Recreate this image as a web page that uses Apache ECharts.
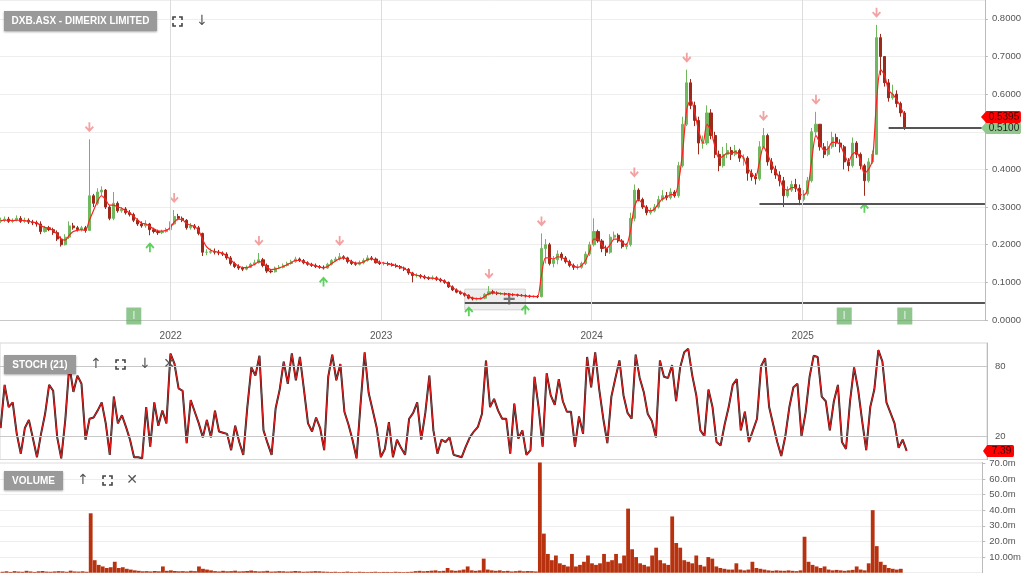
<!DOCTYPE html>
<html><head><meta charset="utf-8">
<script src="https://cdn.jsdelivr.net/npm/echarts@6/dist/echarts.min.js"></script>
<style>html,body{margin:0;padding:0;background:#fff;overflow:hidden}#c{width:1024px;height:573px}</style>
</head><body><div id="c"></div>
<script>
// ---- data (weekly) ----
const firstWeek = [2021, 2, 12];      // first weekly bar (Y, M-1, D)
const axisFrom = [2021, 2, 11];
const axisTo = [2025, 10, 13];
const yearLines = ['2022-01-01', '2023-01-01', '2024-01-01', '2025-01-01'];

const opens = [
.262,.265,.268,.262,.265,.270,.262,.265,.260,.258,
.255,.235,.245,.240,.232,.215,.200,.220,.250,.245,
.240,.245,.238,.330,.310,.340,.345,.300,.270,.310,
.290,.295,.285,.280,.265,.255,.250,.255,.240,.235,
.232,.235,.240,.255,.275,.270,.265,.245,.250,.245,
.230,.180,.180,.182,.180,.178,.175,.165,.150,.142,
.138,.135,.140,.148,.152,.160,.145,.130,.128,.138,
.140,.145,.150,.155,.162,.158,.152,.148,.145,.142,
.140,.138,.148,.158,.162,.168,.165,.155,.150,.148,
.152,.158,.165,.162,.152,.150,.150,.148,.145,.142,
.138,.135,.125,.118,.118,.115,.112,.110,.112,.108,
.104,.100,.088,.080,.074,.070,.066,.058,.056,.056,
.058,.068,.075,.072,.070,.070,.069,.068,.067,.066,
.065,.064,.062,.063,.062,.190,.200,.150,.160,.175,
.165,.155,.145,.140,.140,.150,.175,.200,.235,.210,
.190,.180,.220,.225,.210,.195,.200,.270,.345,.320,
.300,.285,.290,.300,.320,.330,.325,.340,.330,.410,
.520,.630,.570,.530,.470,.470,.550,.490,.440,.410,
.440,.450,.440,.450,.430,.430,.390,.380,.375,.460,
.490,.420,.400,.385,.370,.330,.345,.360,.350,.320,
.335,.370,.500,.520,.460,.440,.460,.485,.470,.460,
.420,.410,.470,.440,.410,.370,.420,.440,.750,.700,
.630,.590,.600,.575,.550];
const closes = [
.265,.268,.262,.265,.270,.262,.265,.260,.258,.255,
.235,.245,.240,.232,.215,.200,.220,.250,.245,.240,
.245,.238,.330,.310,.340,.345,.300,.270,.310,.290,
.295,.285,.280,.265,.255,.250,.255,.240,.235,.232,
.235,.240,.255,.275,.270,.265,.245,.250,.245,.230,
.180,.180,.182,.180,.178,.175,.165,.150,.142,.138,
.135,.140,.148,.152,.160,.145,.130,.128,.138,.140,
.145,.150,.155,.162,.158,.152,.148,.145,.142,.140,
.138,.148,.158,.162,.168,.165,.155,.150,.148,.152,
.158,.165,.162,.152,.150,.150,.148,.145,.142,.138,
.135,.125,.118,.118,.115,.112,.110,.112,.108,.104,
.100,.088,.080,.074,.070,.066,.058,.056,.056,.058,
.068,.075,.072,.070,.070,.069,.068,.067,.066,.065,
.064,.062,.063,.062,.190,.200,.150,.160,.175,.165,
.155,.145,.140,.140,.150,.175,.200,.235,.210,.190,
.180,.220,.225,.210,.195,.200,.270,.345,.320,.300,
.285,.290,.300,.320,.330,.325,.340,.330,.410,.520,
.630,.570,.530,.470,.470,.550,.490,.440,.410,.440,
.450,.440,.450,.430,.430,.390,.380,.375,.460,.490,
.420,.400,.385,.370,.330,.345,.360,.350,.320,.335,
.370,.500,.520,.460,.440,.460,.485,.470,.460,.420,
.410,.470,.440,.410,.370,.420,.440,.750,.700,.630,
.590,.600,.575,.550,.510];
const lows = [
.258,.260,.258,.258,.262,.258,.258,.255,.252,.248,
.228,.232,.236,.226,.210,.195,.198,.215,.240,.235,
.235,.232,.236,.300,.305,.330,.295,.265,.265,.285,
.285,.280,.275,.260,.250,.245,.245,.225,.230,.226,
.228,.232,.238,.252,.265,.260,.240,.240,.240,.225,
.170,.172,.176,.174,.172,.170,.160,.145,.138,.133,
.130,.132,.138,.145,.150,.140,.125,.124,.126,.135,
.137,.142,.147,.152,.154,.148,.144,.141,.138,.136,
.134,.136,.145,.155,.158,.160,.150,.146,.144,.145,
.148,.155,.158,.150,.146,.145,.144,.142,.139,.135,
.130,.120,.100,.113,.110,.108,.106,.106,.104,.100,
.096,.085,.077,.071,.067,.062,.055,.052,.052,.054,
.055,.065,.068,.066,.066,.065,.064,.063,.062,.062,
.060,.059,.059,.058,.060,.150,.145,.140,.148,.158,
.150,.140,.133,.134,.136,.146,.170,.195,.205,.180,
.170,.176,.212,.205,.190,.188,.195,.262,.315,.295,
.278,.280,.286,.296,.315,.318,.320,.325,.325,.405,
.515,.560,.515,.440,.455,.465,.480,.430,.395,.405,
.430,.425,.435,.420,.410,.370,.370,.360,.370,.455,
.410,.390,.375,.355,.300,.325,.340,.340,.305,.315,
.330,.365,.490,.450,.430,.435,.455,.460,.445,.400,
.395,.405,.430,.400,.330,.365,.415,.440,.650,.620,
.580,.585,.565,.540,.505];
const highs = [
.272,.275,.274,.270,.278,.276,.272,.270,.266,.264,
.262,.250,.250,.245,.238,.222,.228,.262,.258,.250,
.250,.250,.480,.335,.350,.355,.348,.305,.340,.315,
.300,.300,.292,.285,.270,.262,.265,.258,.245,.240,
.240,.245,.262,.292,.282,.275,.268,.258,.255,.250,
.232,.188,.190,.190,.186,.182,.180,.170,.155,.148,
.142,.145,.152,.160,.178,.165,.150,.135,.142,.146,
.150,.155,.160,.168,.166,.162,.156,.152,.150,.146,
.145,.152,.162,.168,.178,.172,.168,.160,.155,.158,
.164,.172,.170,.166,.158,.155,.155,.152,.150,.146,
.142,.138,.128,.124,.122,.120,.116,.118,.116,.112,
.108,.102,.092,.084,.078,.073,.068,.062,.060,.062,
.072,.090,.080,.076,.074,.073,.072,.071,.070,.069,
.068,.067,.066,.066,.230,.215,.205,.170,.185,.180,
.170,.160,.150,.148,.155,.182,.208,.270,.240,.215,
.198,.228,.235,.230,.215,.205,.285,.360,.350,.325,
.305,.298,.308,.330,.345,.340,.350,.345,.420,.540,
.665,.640,.580,.540,.490,.570,.560,.500,.450,.460,
.470,.460,.465,.455,.440,.435,.400,.390,.475,.510,
.495,.430,.410,.395,.380,.355,.370,.375,.360,.345,
.380,.510,.553,.520,.470,.475,.500,.495,.480,.465,
.430,.485,.475,.445,.415,.430,.450,.784,.760,.700,
.640,.625,.610,.580,.555];
const maLine = [
.264,.265,.265,.264,.265,.265,.264,.262,.260,.258,
.250,.246,.243,.238,.228,.215,.212,.225,.235,.238,
.240,.238,.265,.290,.315,.330,.320,.305,.305,.300,
.297,.290,.285,.275,.265,.257,.255,.248,.242,.237,
.236,.238,.245,.260,.268,.267,.257,.252,.248,.240,
.215,.195,.186,.182,.180,.177,.170,.160,.150,.143,
.139,.139,.143,.148,.155,.152,.141,.134,.135,.138,
.142,.147,.152,.158,.158,.155,.151,.147,.144,.141,
.139,.142,.150,.157,.163,.165,.160,.155,.151,.151,
.155,.161,.162,.157,.153,.151,.149,.147,.144,.140,
.137,.130,.123,.119,.117,.114,.112,.111,.110,.107,
.103,.094,.086,.079,.074,.069,.062,.058,.057,.057,
.063,.070,.072,.071,.070,.069,.068,.067,.066,.065,
.064,.063,.063,.062,.120,.165,.165,.162,.168,.166,
.160,.150,.143,.140,.145,.160,.185,.215,.215,.200,
.190,.200,.215,.215,.205,.200,.235,.300,.320,.310,
.295,.290,.295,.310,.322,.326,.333,.333,.370,.450,
.560,.585,.550,.500,.470,.520,.500,.460,.430,.435,
.443,.443,.447,.440,.432,.405,.390,.380,.420,.460,
.440,.415,.395,.375,.350,.345,.352,.352,.335,.332,
.350,.430,.490,.470,.450,.455,.472,.472,.465,.440,
.420,.440,.445,.425,.390,.400,.425,.580,.665,.650,
.610,.600,.585,.565,.5395];
const stochK = [
27,64,45,49,22,5,27,34,18,2,
22,39,64,59,19,1,34,81,58,72,
65,17,35,36,42,49,31,4,54,31,
38,28,17,2,2,1,45,11,49,29,
42,31,91,82,61,59,14,51,41,31,
19,34,19,42,24,23,22,8,29,15,
4,45,79,72,89,25,14,4,44,60,
84,65,91,68,88,60,31,24,36,27,
8,71,90,68,82,41,30,17,1,48,
92,57,42,27,2,9,32,2,17,10,
4,35,40,49,17,40,72,25,5,17,
15,19,4,3,2,11,19,24,28,39,
85,45,52,42,35,35,5,48,18,25,
4,8,71,45,11,74,55,47,69,50,
41,41,11,37,22,88,62,92,60,35,
14,54,70,85,55,40,35,90,70,58,
39,33,19,85,71,70,81,50,79,92,
95,72,55,25,20,60,45,15,12,30,
45,64,69,25,41,15,25,35,80,87,
45,30,15,3,20,45,62,65,20,40,
71,89,88,54,50,25,50,64,15,9,
50,79,60,33,8,45,60,94,84,49,
40,31,10,17,7.39];
const volumeM = [
0.6,0.9,0.5,1.0,0.7,0.6,1.2,0.8,0.5,0.9,1.1,0.7,0.6,0.8,1.0,0.9,0.6,1.3,0.8,0.7,0.9,0.6,
38,8,5,4,3,3.5,7,3,3.5,2.5,2,1.5,
1.2,0.9,1.0,0.8,1.1,0.9,4,1.2,1.5,1.1,0.9,1.0,0.8,1.2,1.0,4,
2.5,2,1.5,
1.0,0.8,1.2,0.9,1.0,1.3,0.8,0.9,1.1,1.4,1.0,0.8,0.9,1.2,0.7,0.8,1.0,0.9,0.7,0.8,1.1,0.9,0.6,0.7,0.8,1.0,0.9,0.7,0.6,
0.5,0.6,0.4,0.5,0.7,0.5,0.4,0.6,0.5,0.4,0.5,0.6,0.4,0.5,0.5,0.4,0.6,0.5,0.4,0.5,0.6,
1.0,1.2,0.9,1.1,1.3,1.5,1.0,1.2,
3,1.5,1.2,1.5,2,4,1.5,1.2,1.5,9,2,1.5,1.2,1.5,
1.0,1.2,0.8,1.0,1.3,0.9,1.1,1.0,0.8,
70.5,25,12,8,11,6,5,4,12,4,5,7,11,6,5,6,12,7,8,12,6,11,41,15,10,6,5,4,11,16,8,6,5,36,19,16,8,7,6,11,5,4,10,9,4,3,2.5,2,2,6,2,1.5,2,7,3,2.5,2,1.5,1.2,1.5,1.3,1.2,1.5,1.2,1.0,1.5,23,7,5,4,3,4,2,1.5,1.8,1.5,1.2,1.5,1.8,4,2,1.5,6,40,17,7,5,3,2.5,2,2.5];

const swingHighWeeks = [22, 43, 64, 84, 121, 134, 157, 170, 189, 202, 217];
const swingLowWeeks = [37, 80, 116, 130, 214];
const insiderWeeks = [33, 209, 224];
const supportLines = [[115, 0.045], [188, 0.308], [220, 0.51]];   // [from week, price]
const consolidation = { fromWeek: 115, toWeek: 130, low: 0.027, high: 0.082, markWeek: 126, markPrice: 0.056 };
const stochLevels = [20, 80];
const priceTicks = { min: 0, max: 0.85, step: 0.1 };
const volTicks = { min: 0, max: 70.5, step: 10 };

// ---- build ----
const DAY = 86400000;
const t0 = new Date(firstWeek[0], firstWeek[1], firstWeek[2]).getTime();
const weekDates = closes.map((_, i) => t0 + i * 7 * DAY);
const xMin = new Date(axisFrom[0], axisFrom[1], axisFrom[2]).getTime();
const xMax = new Date(axisTo[0], axisTo[1], axisTo[2]).getTime();
const last = closes.length - 1;

const candleData = closes.map((c, i) => [weekDates[i], opens[i], c, lows[i], highs[i]]);
const maData = maLine.map((v, i) => [weekDates[i], v]);
const stochData = stochK.map((v, i) => [weekDates[i], v]);
const volData = volumeM.map((v, i) => [weekDates[i], v]);

const arrowDown = 'path://M4,0 L6,0 L6,6.2 L8.6,3.6 L10,5 L5,10 L0,5 L1.4,3.6 L4,6.2 Z';
const arrowUp = 'path://M4,10 L6,10 L6,3.8 L8.6,6.4 L10,5 L5,0 L0,5 L1.4,6.4 L4,3.8 Z';
const tagPath = 'path://M0,6 L6,0 L42,0 Q44,0 44,2 L44,10 Q44,12 42,12 L6,12 Z';
const crossPath = 'path://M4,0 L6,0 L6,4 L10,4 L10,6 L6,6 L6,10 L4,10 L4,6 L0,6 L0,4 L4,4 Z';
const FONT = 'Liberation Sans, Arial, sans-serif';

function tag(x, y, val, fill, txt, w) {
  return {
    coord: [x, y], value: val, symbol: tagPath, symbolSize: [w, 12], symbolOffset: [w / 2 - 4, 0],
    itemStyle: { color: fill },
    label: { show: true, position: 'inside', formatter: String(val), color: txt, fontSize: 10, fontFamily: FONT, offset: [3, 0] }
  };
}

function corners(x, y, s) {
  const st = { stroke: '#444', lineWidth: 1.6, fill: null };
  return [
    { type: 'polyline', z: 100, shape: { points: [[x, y + 3], [x, y], [x + 3, y]] }, style: st },
    { type: 'polyline', z: 100, shape: { points: [[x + s - 3, y], [x + s, y], [x + s, y + 3]] }, style: st },
    { type: 'polyline', z: 100, shape: { points: [[x, y + s - 3], [x, y + s], [x + 3, y + s]] }, style: st },
    { type: 'polyline', z: 100, shape: { points: [[x + s - 3, y + s], [x + s, y + s], [x + s, y + s - 3]] }, style: st }
  ];
}
function glyph(x, y, ch) {
  return { type: 'text', z: 100, x: x, y: y, style: { text: ch, fill: '#555', font: '14px DejaVu Sans', align: 'center', verticalAlign: 'middle' } };
}
function badge(x, y, w, h, t) {
  return [
    { type: 'rect', z: 100, shape: { x: x, y: y, width: w, height: h }, style: { fill: '#9a9a9a', shadowBlur: 2, shadowColor: 'rgba(0,0,0,0.35)', shadowOffsetY: 1 } },
    { type: 'text', z: 101, x: x + w / 2, y: y + h / 2 + 0.5, style: { text: t, fill: '#fff', font: 'bold 10px ' + FONT, align: 'center', verticalAlign: 'middle' } }
  ];
}

const yearFmt = (v) => { const d = new Date(v); return (d.getMonth() === 0 && d.getDate() === 1) ? String(d.getFullYear()) : ''; };

const chart = echarts.init(document.getElementById('c'), null, { renderer: 'canvas' });
chart.setOption({
  animation: false,
  backgroundColor: '#fff',
  grid: [
    { left: 0, right: 37, top: 0, height: 320 },
    { left: -1, right: 37, top: 343, height: 116.5, show: true, borderColor: '#d6d6d6', borderWidth: 1 },
    { left: 0, right: 37, top: 462.5, height: 110.2 }
  ],
  xAxis: [
    { type: 'time', gridIndex: 0, min: xMin, max: xMax, offset: 7, splitNumber: 5,
      axisLine: { show: true, lineStyle: { color: '#c8c8c8' } }, axisTick: { show: false }, splitLine: { show: false },
      axisLabel: { formatter: yearFmt, color: '#555', fontSize: 10, fontFamily: FONT, margin: 4, hideOverlap: false } },
    { type: 'time', gridIndex: 1, min: xMin, max: xMax, show: false },
    { type: 'time', gridIndex: 2, min: xMin, max: xMax, show: false }
  ],
  yAxis: [
    { type: 'value', gridIndex: 0, position: 'right', min: priceTicks.min, max: priceTicks.max, interval: priceTicks.step,
      axisLine: { show: true, lineStyle: { color: '#bbb' } }, axisTick: { show: true, length: 3, lineStyle: { color: '#bbb' } },
      splitLine: { lineStyle: { color: '#eeeeee' } },
      axisLabel: { formatter: (v) => v.toFixed(4), showMaxLabel: false, color: '#555', fontSize: 9.5, fontFamily: FONT, margin: 7 } },
    { type: 'value', gridIndex: 1, position: 'right', min: 0, max: 100, interval: 20,
      axisLine: { show: true, lineStyle: { color: '#bbb' } }, axisTick: { show: false }, splitLine: { show: false },
      axisLabel: { formatter: (v) => (stochLevels.indexOf(v) >= 0 ? String(v) : ''), color: '#555', fontSize: 9.5, fontFamily: FONT, margin: 8 } },
    { type: 'value', gridIndex: 2, position: 'right', min: volTicks.min, max: volTicks.max, interval: volTicks.step,
      axisLine: { show: true, lineStyle: { color: '#bbb' } }, axisTick: { show: true, length: 3, lineStyle: { color: '#bbb' } },
      splitLine: { lineStyle: { color: '#eeeeee' } },
      axisLabel: { formatter: (v) => (v === 0 ? '' : (v === 10 ? '10.00m' : v.toFixed(1) + 'm')), showMaxLabel: false, showMinLabel: false,
        color: '#555', fontSize: 9.5, fontFamily: FONT, margin: 7 } }
  ],
  series: [
    { type: 'candlestick', xAxisIndex: 0, yAxisIndex: 0, data: candleData, barWidth: 2.6,
      itemStyle: { color: '#6fb85e', color0: '#9c2a1b', borderColor: '#6fb85e', borderColor0: '#9c2a1b', borderWidth: 1 },
      markLine: { silent: true, symbol: 'none', label: { show: false }, lineStyle: { color: '#555', width: 1.8, type: 'solid' },
        data: supportLines.map(s => [{ coord: [weekDates[s[0]], s[1]] }, { coord: [xMax, s[1]] }]) },
      markArea: { silent: true, itemStyle: { color: 'rgba(0,0,0,0.07)', borderColor: '#d0d0d0', borderWidth: 1 },
        data: [[{ coord: [weekDates[consolidation.fromWeek], consolidation.low] }, { coord: [weekDates[consolidation.toWeek], consolidation.high] }]] },
      markPoint: { silent: true, data: [tag(xMax, closes[last], closes[last].toFixed(4), '#8fc98b', '#222', 40)] }
    },
    { type: 'line', xAxisIndex: 0, yAxisIndex: 0, data: maData, showSymbol: false, smooth: 0.3,
      lineStyle: { color: '#ff2020', width: 1.2 },
      markLine: { silent: true, symbol: 'none', label: { show: false }, lineStyle: { color: '#dcdcdc', width: 1, type: 'solid' },
        data: yearLines.map(d => ({ xAxis: new Date(d + 'T00:00:00').getTime() })) },
      markPoint: { silent: true, data: [tag(xMax, maLine[last], maLine[last].toFixed(4), '#ff0000', '#3a0000', 40)] }
    },
    { type: 'scatter', xAxisIndex: 0, yAxisIndex: 0, symbol: arrowDown, symbolSize: [9, 10], symbolOffset: [0, -12],
      itemStyle: { color: '#f08a8a' }, data: swingHighWeeks.map(i => [weekDates[i], highs[i]]) },
    { type: 'scatter', xAxisIndex: 0, yAxisIndex: 0, symbol: arrowUp, symbolSize: [9, 10], symbolOffset: [0, 12],
      itemStyle: { color: '#33c633' }, data: swingLowWeeks.map(i => [weekDates[i], lows[i]]) },
    { type: 'scatter', xAxisIndex: 0, yAxisIndex: 0, symbol: 'rect', symbolSize: [15, 17], clip: false,
      itemStyle: { color: 'rgba(90,172,90,0.85)' },
      label: { show: true, position: 'inside', formatter: 'I', color: '#fff', fontSize: 10, fontFamily: FONT },
      data: insiderWeeks.map(i => [weekDates[i], 0.0106]) },
    { type: 'scatter', xAxisIndex: 0, yAxisIndex: 0, symbol: crossPath, symbolSize: 11,
      itemStyle: { color: '#555' }, data: [[weekDates[consolidation.markWeek], consolidation.markPrice]] },
    { type: 'line', xAxisIndex: 1, yAxisIndex: 1, data: stochData, showSymbol: false,
      lineStyle: { color: '#222', width: 2 } },
    { type: 'line', xAxisIndex: 1, yAxisIndex: 1, data: stochData, showSymbol: false,
      lineStyle: { color: '#e41b1b', width: 1.1 },
      markLine: { silent: true, symbol: 'none', label: { show: false }, lineStyle: { color: '#c8c8c8', width: 1, type: 'solid' },
        data: stochLevels.map(v => ({ yAxis: v })) },
      markPoint: { silent: true, data: [tag(xMax, stochK[last], stochK[last].toFixed(2), '#ff0000', '#3a0000', 31)] }
    },
    { type: 'bar', xAxisIndex: 2, yAxisIndex: 2, data: volData, barWidth: 3.8,
      itemStyle: { color: '#b8320f' } }
  ],
  graphic: [].concat(
    badge(4, 11, 153, 20, 'DXB.ASX - DIMERIX LIMITED'),
    corners(173, 17, 9), [glyph(202, 21, '↓')],
    badge(4, 355, 72, 19, 'STOCH (21)'),
    [glyph(96, 364, '↑')], corners(116, 360, 9), [glyph(145, 364, '↓'), glyph(169, 364, '✕')],
    badge(4, 471, 59, 19, 'VOLUME'),
    [glyph(83, 480, '↑')], corners(103, 476, 9), [glyph(132, 480, '✕')]
  )
});
</script>
</body></html>
